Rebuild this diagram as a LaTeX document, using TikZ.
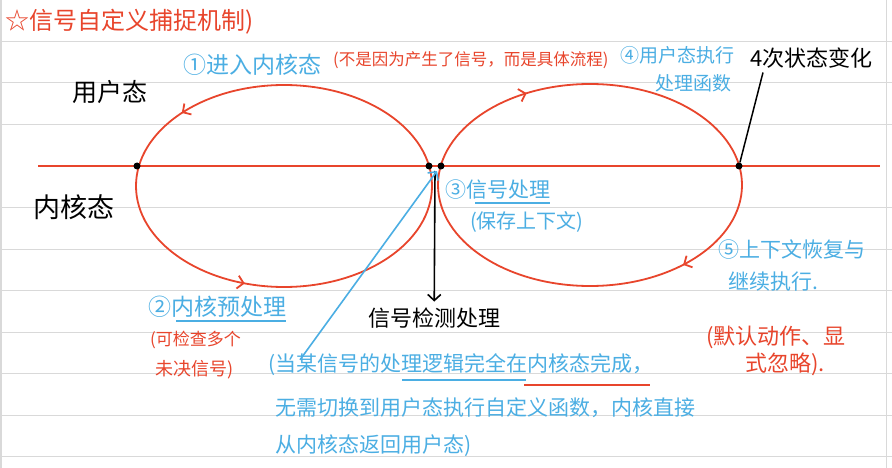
\documentclass[tikz,border=0pt]{standalone}
\usepackage{fontspec}
\setmainfont{Noto Sans CJK SC}
\usetikzlibrary{arrows.meta,decorations.markings}

\definecolor{penred}{HTML}{E8452C}
\definecolor{penblue}{HTML}{4BAEE3}
\definecolor{paperline}{HTML}{D9D9D9}

\newcommand{\fs}[1]{\fontsize{#1}{#1}\selectfont}

\begin{document}
\begin{tikzpicture}[x=1pt,y=-1pt,>={Straight Barb[length=6pt,width=13pt]},
  txt/.style={anchor=west,inner sep=0pt},
  redtxt/.style={txt,text=penred},
  bluetxt/.style={txt,text=penblue},
  orbit/.style={penred,line width=1.8pt,postaction={decorate}},
  statedot/.style={circle,fill=black,inner sep=0pt,minimum size=7pt}]

\useasboundingbox[fill=white] (0,0) rectangle (892,468);

% 罫線
\foreach \ry in {41.5,83,124.5,207.5,249,290.5,332,373.5,415,456.5}
  \draw[paperline,line width=1pt] (0,\ry) -- (892,\ry);
\draw[paperline,line width=1.5pt] (1,0) -- (1,468);
\draw[paperline,line width=1pt] (886,0) -- (886,468);

% 标题
\node[redtxt] (title) at (5,22) {\fs{24}☆信号自定义捕捉机制)};

\node[txt] (user) at (72,92) {\fs{25}用户态};
\node[txt] (kernel) at (33,207) {\fs{27}内核态};

% 分界线
\draw[penred,line width=2pt] (38,166) -- (880,166);

% 左圈
\draw[orbit,decoration={markings,
    mark=at position 0.386 with {\arrow{>}},
    mark=at position 0.70 with {\arrow{>}}}]
  (432,186) arc[start angle=360,end angle=0,x radius=148,y radius=101];

% 右圈
\draw[orbit,decoration={markings,
    mark=at position 0.17 with {\arrow{>}},
    mark=at position 0.63 with {\arrow{>}}}]
  (438,185) arc[start angle=180,end angle=540,x radius=152,y radius=101];

\node[statedot] (d1) at (137,166) {};
\node[statedot] (d2) at (429,166) {};
\node[statedot] (d3) at (441,166) {};
\node[statedot] (d4) at (739,166) {};
\coordinate (cross) at (435,171);

% 步骤
\node[bluetxt] (step1) at (183,65) {\fs{23}①进入内核态};
\node[redtxt] (why) at (333,60) {\fs{16.5}(不是因为产生了信号，而是具体流程)};

\node[bluetxt] (step4a) at (620,55) {\fs{19}④用户态执行};
\node[bluetxt] (step4b) at (655,83) {\fs{19}处理函数};

\node[txt] (change) at (750,58) {\fs{22}4次状态变化};
\draw[line width=1.5pt] ([xshift=13pt,yshift=-4pt]change.south west) -- (d4);

\node[bluetxt] (step3) at (445,190) {\fs{21}③信号处理};
\draw[penblue,line width=1.4pt] ([xshift=30pt,yshift=-3pt]step3.south west) -- ([yshift=-3pt]step3.south east);
\node[bluetxt] (save) at (470,222) {\fs{20}(保存上下文)};

\node[bluetxt] (step5a) at (718,250) {\fs{21}⑤上下文恢复与};
\node[bluetxt] (step5b) at (728,282) {\fs{21}继续执行.};

\node[bluetxt] (step2) at (148,307) {\fs{23}②内核预处理};
\draw[penblue,line width=1.4pt] ([xshift=28pt,yshift=-3pt]step2.south west) -- ([yshift=-3pt]step2.south east);
\node[redtxt] (check1) at (150,340) {\fs{17}(可检查多个};
\node[redtxt] (check2) at (155,370) {\fs{18}未决信号)};

\node[txt] (detect) at (368,318) {\fs{22}信号检测处理};
\draw[->,line width=1.6pt,shorten >=6pt] (cross) -- (detect.north);

% 说明
\node[bluetxt] (note1) at (268,365) {\fs{21}(当某信号的处理逻辑完全在内核态完成，};
\node[bluetxt] (note2) at (275,408) {\fs{21}无需切换到用户态执行自定义函数，内核直接};
\node[bluetxt] (note3) at (275,446) {\fs{21}从内核态返回用户态)};
\draw[penblue,line width=1.2pt] (402,380) -- (526,380);
\draw[penred,line width=2pt] (524,385) -- (650,385);
\draw[->,penblue,line width=1.6pt] ([xshift=32pt,yshift=-6pt]note1.north west) -- ([xshift=2pt]cross);

\node[redtxt] (dflt1) at (706,337) {\fs{22}(默认动作、显};
\node[redtxt] (dflt2) at (745,364) {\fs{22}式忽略).};

\end{tikzpicture}
\end{document}
